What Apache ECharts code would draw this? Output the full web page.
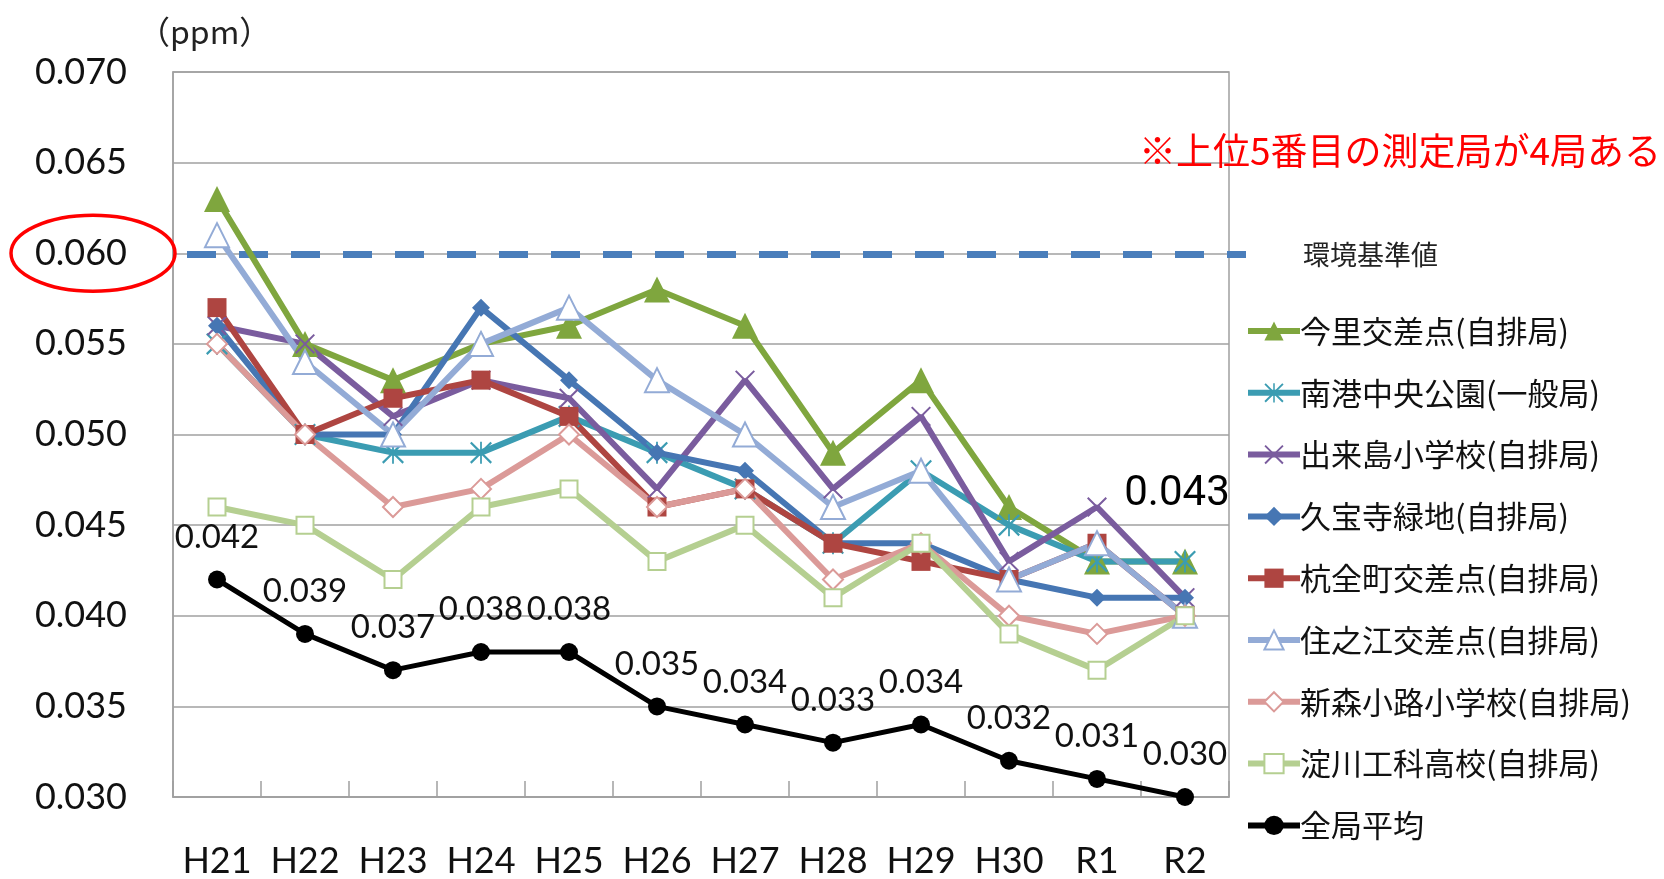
<!DOCTYPE html>
<html>
<head>
<meta charset="utf-8">
<script src="https://cdn.jsdelivr.net/npm/echarts@6/dist/echarts.min.js"></script>
<style>
  html, body { margin: 0; padding: 0; background: #fff; }
  #chart { width: 1664px; height: 879px; }
</style>
</head>
<body>
<div id="chart"></div>
<script>
// 年度
var categories = ["H21", "H22", "H23", "H24", "H25", "H26", "H27", "H28", "H29", "H30", "R1", "R2"];

// 各測定局の年平均値 (ppm)
var imazato   = [0.063, 0.055, 0.053, 0.055, 0.056, 0.058, 0.056, 0.049, 0.053, 0.046, 0.043, 0.043];
var nanko     = [0.055, 0.050, 0.049, 0.049, 0.051, 0.049, 0.047, 0.044, 0.048, 0.045, 0.043, 0.043];
var dekijima  = [0.056, 0.055, 0.051, 0.053, 0.052, 0.047, 0.053, 0.047, 0.051, 0.043, 0.046, 0.041];
var kyuhoji   = [0.056, 0.050, 0.050, 0.057, 0.053, 0.049, 0.048, 0.044, 0.044, 0.042, 0.041, 0.041];
var kumata    = [0.057, 0.050, 0.052, 0.053, 0.051, 0.046, 0.047, 0.044, 0.043, 0.042, 0.044, 0.040];
var suminoe   = [0.061, 0.054, 0.050, 0.055, 0.057, 0.053, 0.050, 0.046, 0.048, 0.042, 0.044, 0.040];
var shinmori  = [0.055, 0.050, 0.046, 0.047, 0.050, 0.046, 0.047, 0.042, 0.044, 0.040, 0.039, 0.040];
var yodogawa  = [0.046, 0.045, 0.042, 0.046, 0.047, 0.043, 0.045, 0.041, 0.044, 0.039, 0.037, 0.040];
var allAvg    = [0.042, 0.039, 0.037, 0.038, 0.038, 0.035, 0.034, 0.033, 0.034, 0.032, 0.031, 0.030];

var stdValue = 0.060;   // 環境基準値
var yTicks = [0.030, 0.035, 0.040, 0.045, 0.050, 0.055, 0.060, 0.065, 0.070];

var chart = echarts.init(document.getElementById("chart"));

var pathX = "path://M0,1.4 L1.4,0 L10,8.6 L18.6,0 L20,1.4 L11.4,10 L20,18.6 L18.6,20 L10,11.4 L1.4,20 L0,18.6 L8.6,10 Z";
var pathStar = "path://M9.2,0 L10.8,0 L10.8,20 L9.2,20 Z M0,1.4 L1.4,0 L10,8.6 L18.6,0 L20,1.4 L11.4,10 L20,18.6 L18.6,20 L10,11.4 L1.4,20 L0,18.6 L8.6,10 Z";

function station(name, data, color, symbol, size, hollow) {
  return {
    name: name,
    type: "line",
    data: data,
    symbol: symbol,
    symbolSize: size,
    lineStyle: { color: color, width: 6 },
    itemStyle: hollow
      ? { color: "#ffffff", borderColor: color, borderWidth: 2 }
      : { color: color },
    z: 3
  };
}

var series = [
  {
    name: "環境基準値",
    type: "line",
    xAxisIndex: 1,
    yAxisIndex: 1,
    data: [[0, stdValue], [1, stdValue]],
    symbol: "none",
    silent: true,
    lineStyle: { color: "#4a7ebb", width: 7, type: [29, 23] },
    endLabel: {
      show: true,
      formatter: "環境基準値",
      distance: 57,
      fontFamily: "Noto Sans CJK JP",
      fontSize: 27,
      color: "#222"
    },
    z: 2
  },
  station("今里交差点(自排局)", imazato, "#7fa63e", "triangle", 26, false),
  station("南港中央公園(一般局)", nanko, "#3b9cb2", pathStar, 22, false),
  station("出来島小学校(自排局)", dekijima, "#7a5c9e", pathX, 20, false),
  station("久宝寺緑地(自排局)", kyuhoji, "#4676b3", "diamond", 18, false),
  station("杭全町交差点(自排局)", kumata, "#ae4541", "rect", 19, false),
  station("住之江交差点(自排局)", suminoe, "#93abd6", "triangle", 24, true),
  station("新森小路小学校(自排局)", shinmori, "#db9a98", "diamond", 20, true),
  station("淀川工科高校(自排局)", yodogawa, "#b5cf91", "rect", 17, true),
  {
    name: "全局平均",
    type: "line",
    data: allAvg,
    symbol: "circle",
    symbolSize: 18,
    lineStyle: { color: "#000", width: 5 },
    itemStyle: { color: "#000" },
    label: {
      show: true,
      position: "top",
      distance: 17,
      fontFamily: "Lato",
      fontSize: 33,
      color: "#111",
      formatter: function (p) { return p.value.toFixed(3); }
    },
    z: 4
  }
];

// R2 の 0.043 表示
series[1].data = imazato.map(function (v, i) {
  if (i === imazato.length - 1) {
    return {
      value: v,
      label: {
        show: true,
        position: "top",
        distance: 33,
        offset: [-8, 0],
        fontFamily: "Roboto",
        fontSize: 42,
        color: "#000",
        formatter: function (p) { return p.value.toFixed(3); }
      }
    };
  }
  return v;
});

var option = {
  backgroundColor: "#fff",
  animation: false,
  title: [
    {
      text: "（ppm）",
      left: 138,
      top: 16,
      padding: 0,
      textStyle: { fontFamily: "Noto Sans CJK JP", fontSize: 32, fontWeight: "normal", color: "#222" }
    },
    {
      text: "※上位5番目の測定局が4局ある",
      right: 3,
      top: 132,
      padding: 0,
      textStyle: { fontFamily: "Noto Sans CJK JP", fontSize: 37, fontWeight: "normal", color: "#ff0000" }
    }
  ],
  legend: {
    data: series.slice(1).map(function (s) { return s.name; }),
    orient: "vertical",
    left: 1240,
    top: 310,
    itemWidth: 52,
    itemHeight: 24,
    itemGap: 29.8,
    lineStyle: { width: 6 },
    textStyle: { fontFamily: "Noto Sans CJK JP", fontSize: 31, lineHeight: 32, color: "#111", padding: [0, 0, 0, -5] }
  },
  grid: [
    { left: 173, right: 435, top: 72, bottom: 77, show: true, borderColor: "#a0a0a0", borderWidth: 1.5 },
    { left: 187, right: 418, top: 72, bottom: 77 }
  ],
  xAxis: [
    {
      type: "category",
      data: categories,
      boundaryGap: true,
      axisLine: { lineStyle: { color: "#a0a0a0", width: 1.5 } },
      axisTick: { show: true, inside: true, length: 16, interval: 0, lineStyle: { color: "#a0a0a0", width: 1.5 } },
      axisLabel: { interval: 0, margin: 46, fontFamily: "Lato", fontSize: 36, color: "#111" }
    },
    { type: "value", gridIndex: 1, min: 0, max: 1, show: false }
  ],
  yAxis: [
    {
      type: "value",
      min: yTicks[0],
      max: yTicks[yTicks.length - 1],
      interval: 0.005,
      axisLine: { show: true, lineStyle: { color: "#a0a0a0", width: 1.5 } },
      axisTick: { show: false },
      splitLine: { lineStyle: { color: "#a0a0a0", width: 1.5 } },
      axisLabel: {
        margin: 46,
        fontFamily: "Lato",
        fontSize: 36,
        color: "#111",
        formatter: function (v) { return v.toFixed(3); }
      }
    },
    { type: "value", gridIndex: 1, min: yTicks[0], max: yTicks[yTicks.length - 1], show: false }
  ],
  series: series
};

chart.setOption(option);

// 0.060 を囲む赤い楕円
var yStd = chart.convertToPixel({ yAxisIndex: 0 }, stdValue);
chart.setOption({
  graphic: [{
    type: "ellipse",
    shape: { cx: 93, cy: yStd, rx: 82, ry: 38 },
    style: { fill: "none", stroke: "#ff0000", lineWidth: 3.5 },
    z: 10
  }]
});
</script>
</body>
</html>
